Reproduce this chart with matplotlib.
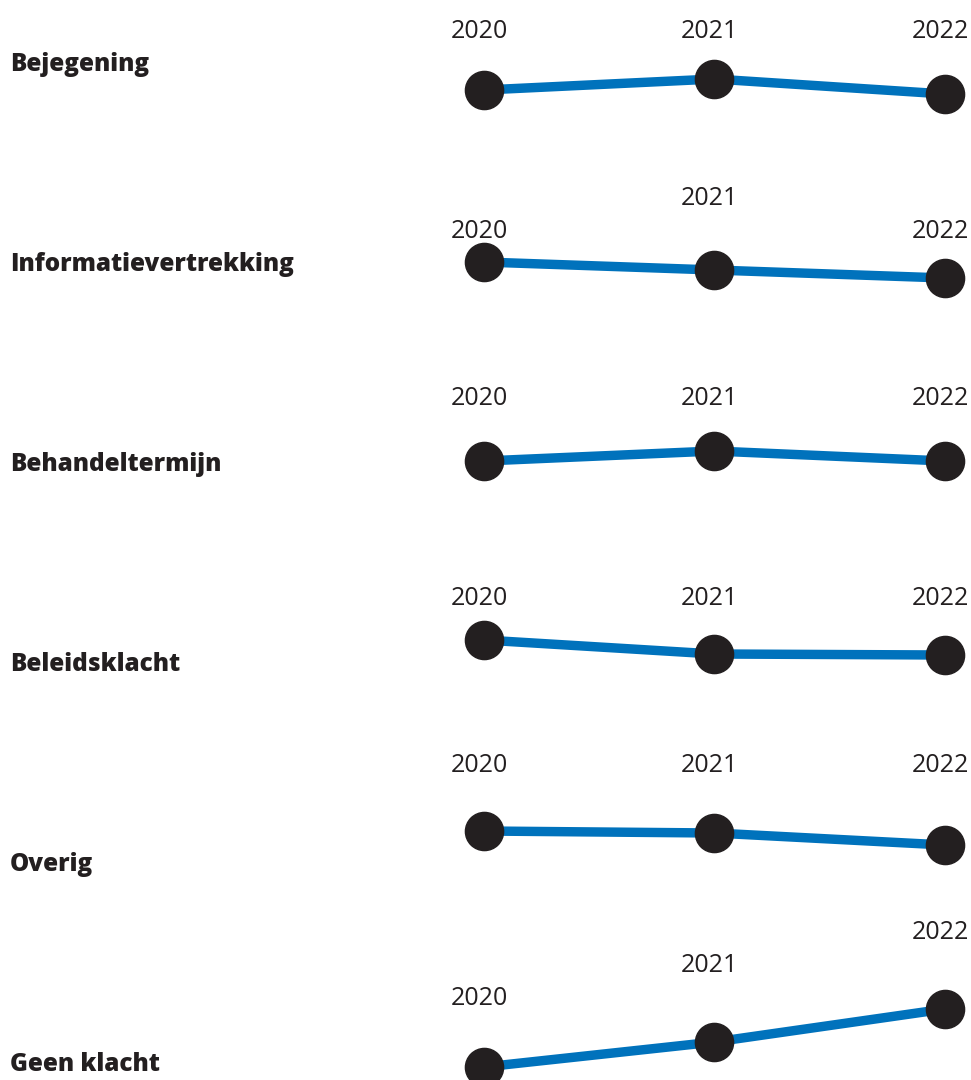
import matplotlib
matplotlib.use("Agg")
import matplotlib.pyplot as plt
import matplotlib.transforms as mtransforms

categorieen = ["Bejegening", "Informatievertrekking", "Behandeltermijn",
               "Beleidsklacht", "Overig", "Geen klacht"]
jaren = [2020, 2021, 2022]
bejegening = [36.5, 42, 34.5]
informatie = [50.5, 46.5, 42.5]
behandeltermijn = [51, 56, 51]
beleidsklacht = [61.5, 54.5, 54]
overig = [66, 65, 59]
geen_klacht = [48, 60.5, 77]
reeksen = [bejegening, informatie, behandeltermijn, beleidsklacht, overig, geen_klacht]

# hoogte van de jaarlabels (niveau boven de lijn)
label_niveaus = [[0, 0, 0], [0, 1, 0], [1, 1, 1], [1, 1, 1], [2, 2, 2], [1, 2, 3]]

tekstkleur = "#231f20"
lijnkleur = "#0072bc"

W, H = 971, 1080
fig = plt.figure(figsize=(W / 100, H / 100), dpi=100)
fig.patch.set_facecolor("white")

for i, (naam, waarden) in enumerate(zip(categorieen, reeksen)):
    midden = 63 + 200 * i
    ax = fig.add_axes([427 / W, 1 - (midden + 100) / H, 544 / W, 200 / H])
    ax.set_xlim(2019.753, 2022.113)
    ax.set_ylim(0, 100)
    ax.axis("off")

    ax.plot(jaren, waarden, color=lijnkleur, lw=6.8, solid_capstyle="butt",
            clip_on=False, zorder=2)
    ax.plot(jaren, waarden, "o", color=tekstkleur, ms=27.5, mec=tekstkleur,
            clip_on=False, zorder=3)

    for jaar, niveau in zip(jaren, label_niveaus[i]):
        ax.annotate(str(jaar), xy=(jaar, 62.5 + 16.5 * niveau),
                    xytext=(-5, 0), textcoords="offset pixels",
                    ha="center", va="baseline", fontsize=18,
                    family="Open Sans", color=tekstkleur,
                    annotation_clip=False)

    trans = mtransforms.blended_transform_factory(fig.transFigure, ax.transData)
    fig.text(10 / W, 46, naam, transform=trans, ha="left", va="baseline",
             fontsize=17.5, family="Open Sans", fontweight=800,
             color=tekstkleur)

fig.savefig("out.png", dpi=100, facecolor="white")
